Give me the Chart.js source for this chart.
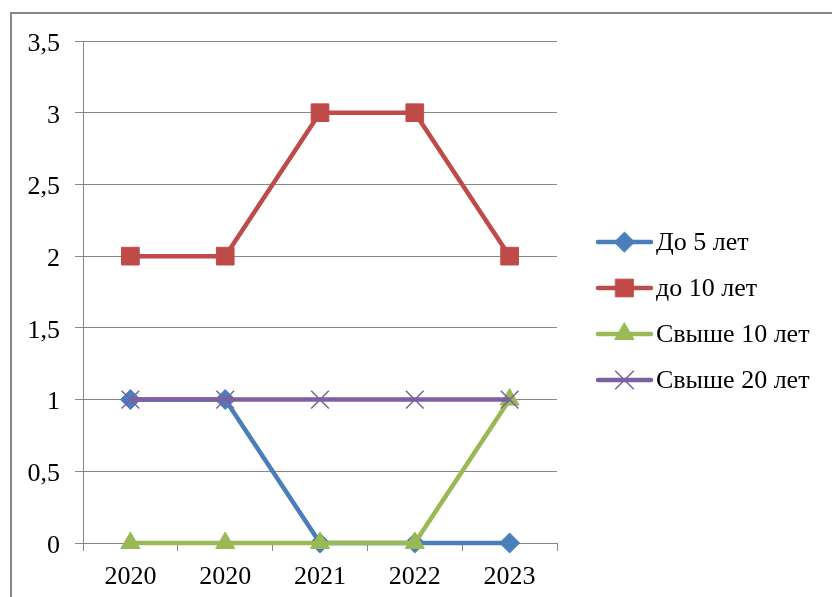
<!DOCTYPE html>
<html lang="ru">
<head>
  <meta charset="UTF-8">
  <title>Стаж</title>
  <style>
    * { margin: 0; padding: 0; box-sizing: border-box; }
    body { width: 832px; height: 597px; overflow: hidden; background: #fff; position: relative; }
    #frame { position: absolute; left: 10px; top: 12px; width: 900px; height: 700px; border: 2px solid #868686; }
    #wrap { position: absolute; left: 0; top: 0; width: 832px; height: 597px; }
    canvas { display: block; }
  </style>
  <script src="https://cdn.jsdelivr.net/npm/chart.js"></script>
</head>
<body>
  <div id="frame"></div>
  <div id="wrap"><canvas id="chart" width="832" height="597"></canvas></div>

  <script>
    // data
    const years     = ['2020', '2020', '2021', '2022', '2023'];
    const upTo5     = [1, 1, 0, 0, 0];
    const upTo10    = [2, 2, 3, 3, 2];
    const over10    = [0, 0, 0, 0, 1];
    const over20    = [1, 1, 1, 1, 1];
    const seriesNames = ['До 5 лет', 'до 10 лет', 'Свыше 10 лет', 'Свыше 20 лет'];

    const FONT = "'Liberation Serif', 'Times New Roman', serif";
    const FSIZE = 26;
    const GRID = '#868686';

    function series(label, data, color, style, radius, order, border) {
      return {
        label, data, order,
        borderColor: color, backgroundColor: color,
        borderWidth: 4.5, tension: 0,
        pointStyle: style, pointRadius: radius, pointHoverRadius: radius,
        pointBackgroundColor: color, pointBorderColor: color,
        pointBorderWidth: border || 1,
        clip: false
      };
    }

    // legend drawn at the right, line with marker through it
    const sideLegend = {
      id: 'sideLegend',
      afterDraw(chart) {
        const ctx = chart.ctx;
        const ys = [242, 288, 334, 380];
        chart.data.datasets.forEach((ds, i) => {
          const y = ys[i];
          ctx.save();
          ctx.strokeStyle = ds.borderColor;
          ctx.lineWidth = 4.5;
          ctx.lineCap = 'round';
          ctx.beginPath();
          ctx.moveTo(598, y); ctx.lineTo(651, y);
          ctx.stroke();
          ctx.fillStyle = ds.pointBackgroundColor;
          ctx.strokeStyle = ds.pointBorderColor;
          ctx.lineWidth = ds.pointBorderWidth;
          Chart.helpers.drawPoint(ctx, {
            pointStyle: ds.pointStyle, rotation: 0,
            radius: ds.pointRadius, borderWidth: ds.pointBorderWidth
          }, 624.5, y);
          ctx.restore();
          ctx.save();
          ctx.fillStyle = '#000';
          ctx.font = FSIZE + 'px ' + FONT;
          ctx.textBaseline = 'middle';
          ctx.fillText(ds.label, 656, y + 1);
          ctx.restore();
        });
      }
    };

    new Chart(document.getElementById('chart'), {
      type: 'line',
      data: {
        labels: years,
        datasets: [
          series(seriesNames[0], upTo5,  '#4A7EBB', 'rectRot', 10, 3),
          series(seriesNames[1], upTo10, '#BE4B48', 'rect', 12.5, 2),
          series(seriesNames[2], over10, '#98B954', 'triangle', 11, 1),
          series(seriesNames[3], over20, '#7D60A0', 'crossRot', 12.5, 0, 1.5)
        ]
      },
      options: {
        responsive: false,
        animation: false,
        devicePixelRatio: 1,
        layout: { padding: { left: 0, right: 275, top: 41, bottom: 0 } },
        plugins: { legend: { display: false }, tooltip: { enabled: false } },
        scales: {
          x: {
            offset: true,
            grid: { offset: true, drawOnChartArea: false, color: GRID, tickLength: 8, lineWidth: 1 },
            border: { color: GRID, width: 1 },
            ticks: { color: '#000', font: { family: FONT, size: FSIZE }, padding: 11, maxRotation: 0 },
            afterFit(scale) { scale.height = 54; }
          },
          y: {
            min: 0, max: 3.5,
            grid: { color: GRID, tickLength: 8, lineWidth: 1 },
            border: { color: GRID, width: 1 },
            ticks: {
              stepSize: 0.5, color: '#000', padding: 15, labelOffset: 3,
              font: { family: FONT, size: FSIZE },
              callback: v => String(v).replace('.', ',')
            },
            afterFit(scale) { scale.width = 83; }
          }
        }
      },
      plugins: [sideLegend]
    });
  </script>
</body>
</html>
